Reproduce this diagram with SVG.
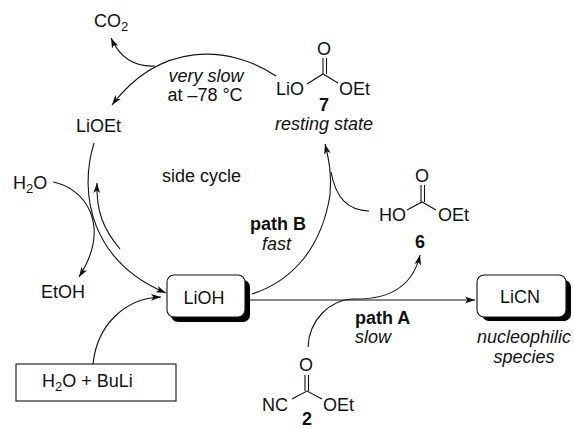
<svg xmlns="http://www.w3.org/2000/svg" width="574" height="429" viewBox="0 0 574 429">
<style>
text{font-family:"Liberation Sans",Arial,sans-serif;font-size:18px;fill:#111}
.s{font-size:13px}
.i{font-style:italic}.b{font-weight:bold}.m{text-anchor:middle}
.c{fill:none;stroke:#111;stroke-width:1.1}
.a{marker-end:url(#h)}
.box{fill:#fff;stroke:#111;stroke-width:1.1}
.sh{fill:#000}
</style>
<defs><marker id="h" markerUnits="userSpaceOnUse" markerWidth="11" markerHeight="8" refX="10" refY="4" orient="auto"><path d="M0 .6L10 4L0 7.400L2.500 4Z" fill="#111"/></marker></defs>
<g id="connectors">
<path class="c a" d="M276 76C228 44 160 42 112 105"/>
<path class="c a" d="M155 66C135 67 120 58 111 38"/>
<path class="c a" d="M94 143C78 195 92 262 166 293"/>
<path class="c a" d="M120 249C104 230 96 212 97 183"/>
<path class="c a" d="M53 182C85 188 112 225 79 277"/>
<path class="c a" d="M93 364C97 325 125 298 161 297"/>
<path class="c" d="M252 294C295 280 322 245 330 195"/>
<path class="c a" d="M330 195C332 175 329 160 325 144"/>
<path class="c" d="M369 211C347 210 336 198 331 172"/>
<path class="c a" d="M250 300H475"/>
<path class="c a" d="M308 347C309 320 330 300 352 299C385 300 412 290 420 255"/>
</g>
<g id="co2"><text x="94" y="27">CO<tspan class="s" dy="4">2</tspan></text></g>
<g id="vs"><text class="i m" x="206" y="82">very slow</text><text class="m" x="205" y="101">at –78 °C</text></g>
<g id="lioet"><text x="76" y="132">LiOEt</text></g>
<g id="side"><text x="162" y="182">side cycle</text></g>
<g id="h2o"><text x="13" y="189">H<tspan class="s" dy="4">2</tspan><tspan dy="-4">O</tspan></text></g>
<g id="etoh"><text x="41" y="298">EtOH</text></g>
<g id="lioh"><rect class="sh" x="171" y="280" width="79" height="42" rx="7"/><rect class="box" x="167" y="275" width="78" height="42" rx="7"/><text class="m" x="204" y="304">LiOH</text></g>
<g id="h2obuli"><rect class="box" x="16" y="364" width="160" height="37"/><text x="42" y="387">H<tspan class="s" dy="4">2</tspan><tspan dy="-4">O + BuLi</tspan></text></g>
<g id="pathb"><text class="b" x="250" y="230">path B</text><text class="i" x="262" y="250">fast</text></g>
<g id="patha"><text class="b" x="355" y="324">path A</text><text class="i" x="355" y="343">slow</text></g>
<g id="licn"><rect class="sh" x="482" y="280" width="89" height="41" rx="7"/><rect class="box" x="477" y="275" width="89" height="42" rx="7"/><text class="m" x="520" y="303">LiCN</text></g>
<g id="nuc"><text class="i m" x="524" y="343">nucleophilic</text><text class="i m" x="524" y="363">species</text></g>
<g id="c7">
<path class="c" d="M307 84L323 74L338 83M323 74V58M326.500 74V58"/>
<text x="276" y="95">LiO</text><text class="m" x="324" y="55">O</text><text x="339" y="95">OEt</text>
<text class="b m" x="324" y="111">7</text><text class="i m" x="324" y="130">resting state</text>
</g>
<g id="c6">
<path class="c" d="M407 210L422 202L436 210M421 202V185M424.500 202V185"/>
<text x="379" y="221">HO</text><text class="m" x="422" y="182">O</text><text x="438" y="221">OEt</text>
<text class="b m" x="420" y="248">6</text>
</g>
<g id="c2">
<path class="c" d="M292 399L307 391L322 399M305 391V375M308.500 391V375"/>
<text x="262" y="411">NC</text><text class="m" x="306" y="371">O</text><text x="323" y="411">OEt</text>
<text class="b m" x="307" y="425">2</text>
</g>
</svg>
